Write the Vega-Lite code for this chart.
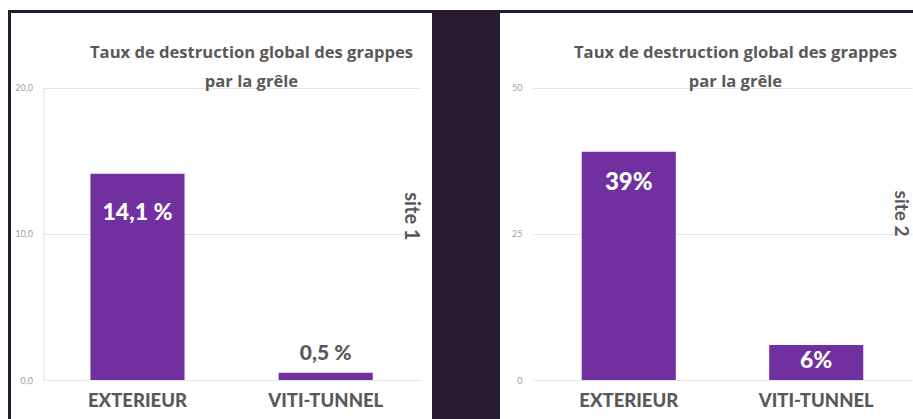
{
  "$schema": "https://vega.github.io/schema/vega-lite/v6.json",
  "background": "white",
  "padding": {"left": 8, "top": 10, "right": 0, "bottom": 0},
  "config": {"view": {"stroke": null}, "font": "Lato"},
  "datasets": {
    "taux": [
      {"site": "site 1", "zone": "EXTERIEUR", "taux": 14.1, "label": "14,1 %"},
      {"site": "site 1", "zone": "VITI-TUNNEL", "taux": 0.5, "label": "0,5 %"},
      {"site": "site 2", "zone": "EXTERIEUR", "taux": 39, "label": "39%"},
      {"site": "site 2", "zone": "VITI-TUNNEL", "taux": 6, "label": "6%"}
    ],
    "blank": [{}]
  },
  "bounds": "flush",
  "spacing": 0,
  "vconcat": [
    {
      "width": 905, "height": 3,
      "data": {"name": "blank"},
      "mark": {"type": "point", "size": 0, "opacity": 0},
      "encoding": {},
      "view": {"fill": "#271b2f", "stroke": null}
    },
    {
      "bounds": "flush",
      "spacing": 0,
      "hconcat": [
        {
          "width": 3, "height": 406,
          "data": {"name": "blank"},
          "mark": {"type": "point", "size": 0, "opacity": 0},
          "encoding": {},
          "view": {"fill": "#271b2f", "stroke": null}
        },
        {
          "width": 421, "height": 406,
          "data": {"name": "taux"},
          "transform": [{"filter": "datum.site === 'site 1'"}],
          "title": {
            "text": ["Taux de destruction global des grappes", "par la grêle"],
            "frame": "group", "anchor": "middle", "dx": 30, "offset": -78,
            "font": "Open Sans", "fontSize": 16.6, "fontWeight": "bold", "color": "#595959", "lineHeight": 29
          },
          "encoding": {
            "x": {
              "field": "zone", "type": "nominal", "sort": null,
              "scale": {"range": [32.4, 408.8], "paddingInner": 0.5, "paddingOuter": 0.25},
              "axis": {"orient": "bottom", "offset": -39, "title": null, "labelAngle": 0, "labelFontSize": 18.5, "labelFontWeight": 900, "labelColor": "#595959", "labelPadding": 11, "ticks": false, "domain": false, "grid": false}
            },
            "y": {
              "field": "taux", "type": "quantitative",
              "scale": {"domain": [0, 20], "range": [367, 74.5], "nice": false},
              "axis": {"orient": "left", "offset": -32.4, "values": [0, 10, 20], "labelExpr": "replace(format(datum.value, '.1f'), '.', ',')", "labelFontSize": 9, "labelColor": "#a0a0a0", "labelPadding": 11, "ticks": false, "domain": true, "domainColor": "#e2e2e2", "grid": true, "gridColor": "#e6e6e6", "title": "site 1", "titleAngle": 90, "titleX": 366.6, "titleY": 203, "titleFontSize": 20, "titleFontWeight": "bold", "titleColor": "#595959", "titleAlign": "center", "titleBaseline": "middle"}
            }
          },
          "layer": [
            {"mark": {"type": "bar", "color": "#7030A0"}},
            {
              "transform": [{"filter": "datum.taux >= 1"}],
              "mark": {"type": "text", "dy": 39, "baseline": "middle", "color": "white", "fontSize": 23, "fontWeight": 900},
              "encoding": {"text": {"field": "label"}}
            },
            {
              "transform": [{"filter": "datum.taux < 1"}],
              "mark": {"type": "text", "dy": -19, "baseline": "middle", "color": "#595959", "fontSize": 21, "fontWeight": 900},
              "encoding": {"text": {"field": "label"}}
            }
          ]
        },
        {
          "width": 68, "height": 406,
          "data": {"name": "blank"},
          "mark": {"type": "point", "size": 0, "opacity": 0},
          "encoding": {},
          "view": {"fill": "#271b2f", "stroke": null}
        },
        {
          "width": 413, "height": 406,
          "data": {"name": "taux"},
          "transform": [{"filter": "datum.site === 'site 2'"}],
          "title": {
            "text": ["Taux de destruction global des grappes", "par la grêle"],
            "frame": "group", "anchor": "middle", "dx": 29, "offset": -78,
            "font": "Open Sans", "fontSize": 16.6, "fontWeight": "bold", "color": "#595959", "lineHeight": 29
          },
          "encoding": {
            "x": {
              "field": "zone", "type": "nominal", "sort": null,
              "scale": {"range": [33, 412], "paddingInner": 0.498, "paddingOuter": 0.26},
              "axis": {"orient": "bottom", "offset": -39, "title": null, "labelAngle": 0, "labelFontSize": 18.5, "labelFontWeight": 900, "labelColor": "#595959", "labelPadding": 11, "ticks": false, "domain": false, "grid": false}
            },
            "y": {
              "field": "taux", "type": "quantitative",
              "scale": {"domain": [0, 50], "range": [367, 74.5], "nice": false},
              "axis": {"orient": "left", "offset": -33, "values": [0, 25, 50], "format": "d", "labelFontSize": 9, "labelColor": "#a0a0a0", "labelPadding": 11, "ticks": false, "domain": false, "grid": true, "gridColor": "#e6e6e6", "title": "site 2", "titleAngle": 90, "titleX": 367.5, "titleY": 200, "titleFontSize": 19, "titleFontWeight": "bold", "titleColor": "#595959", "titleAlign": "center", "titleBaseline": "middle"}
            }
          },
          "layer": [
            {"mark": {"type": "bar", "color": "#7030A0"}},
            {
              "transform": [{"filter": "datum.taux >= 10"}],
              "mark": {"type": "text", "dy": 31, "baseline": "middle", "color": "white", "fontSize": 24, "fontWeight": 900},
              "encoding": {"text": {"field": "label"}}
            },
            {
              "transform": [{"filter": "datum.taux < 10"}],
              "mark": {"type": "text", "dy": 16, "baseline": "middle", "color": "white", "fontSize": 23, "fontWeight": 900},
              "encoding": {"text": {"field": "label"}}
            }
          ]
        }
      ]
    }
  ]
}
